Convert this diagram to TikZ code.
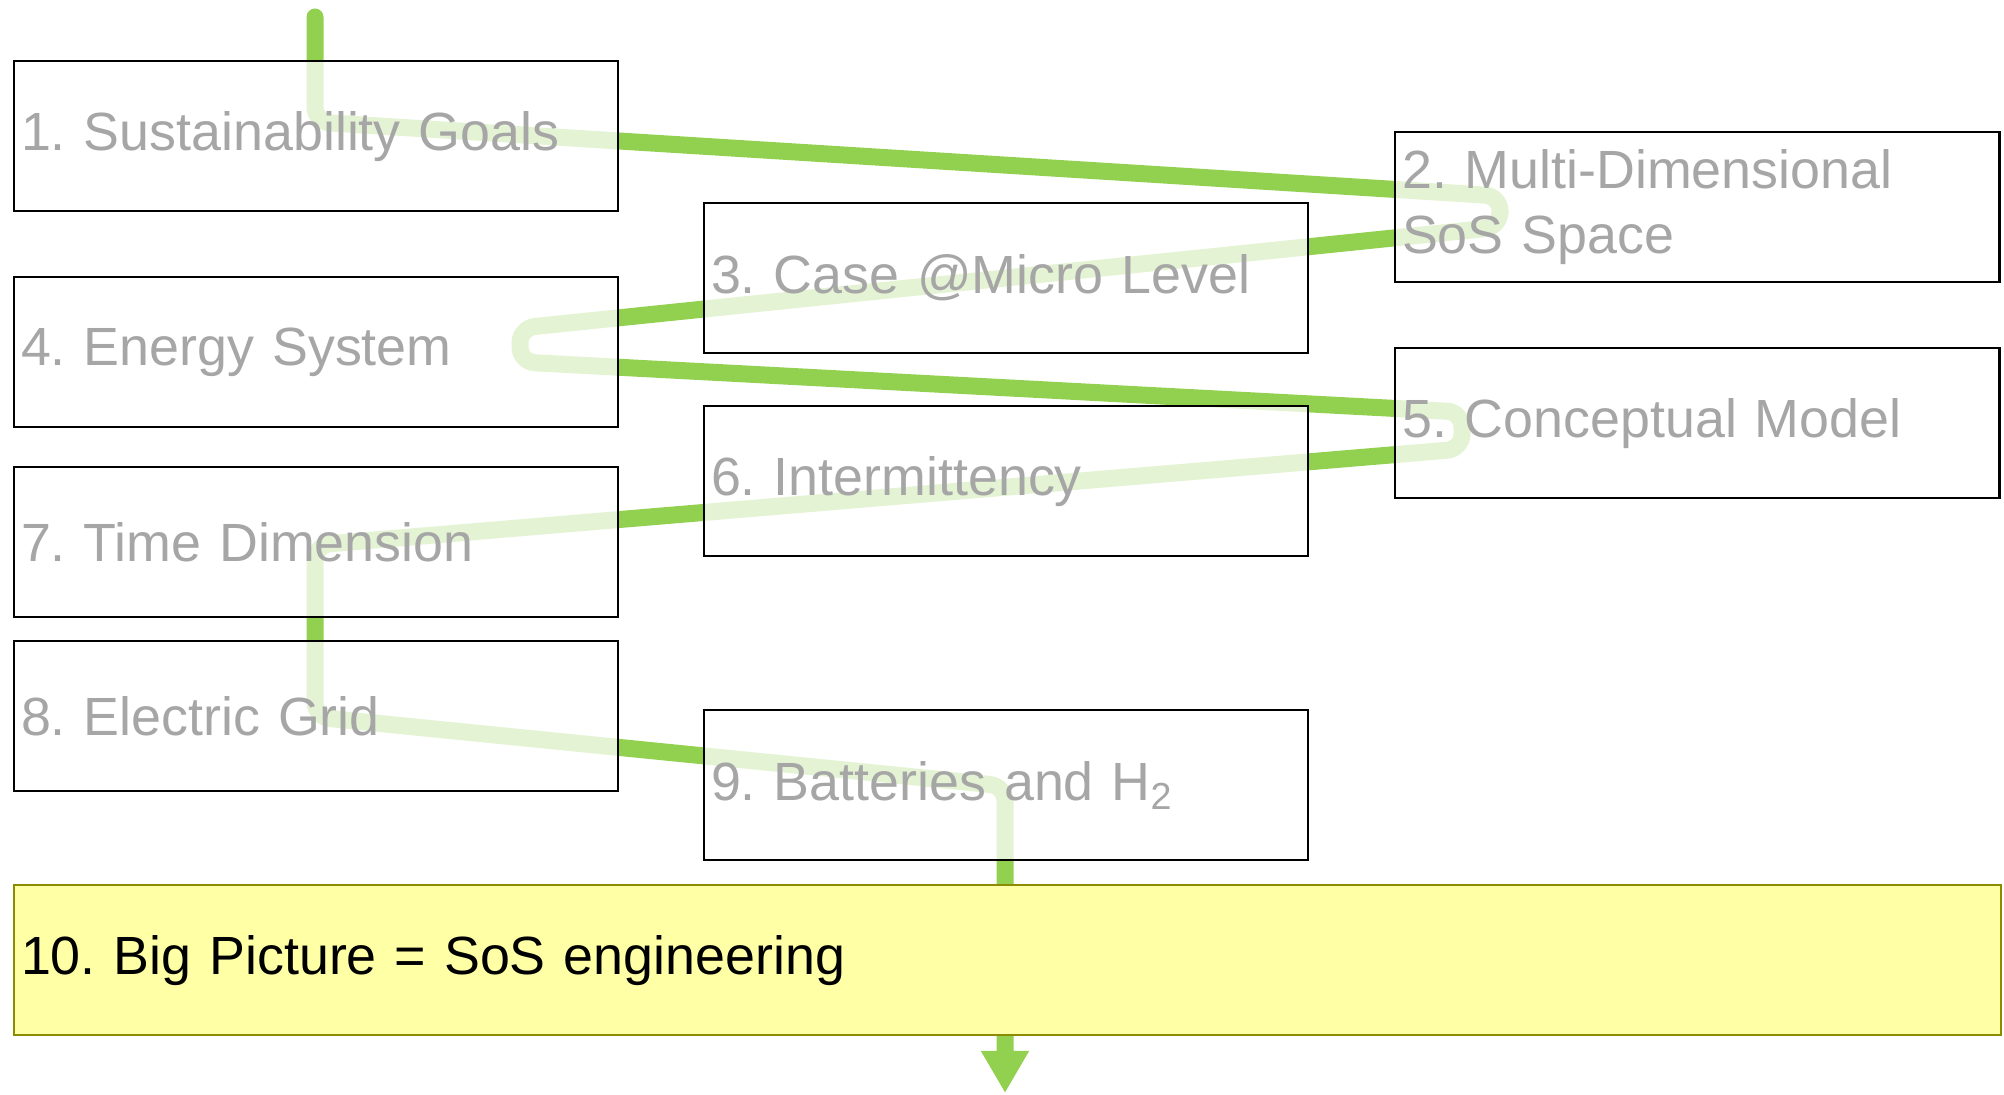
\documentclass[tikz,border=0pt]{standalone}
\usepackage{fontspec}
\setmainfont{Liberation Sans}
\usepackage{tikz}
\usetikzlibrary{
	positioning,   %定位
	arrows.meta,   %箭头
	backgrounds    %背景层
}
\frenchspacing
\definecolor{leafgreen}{RGB}{146,208,80}
\definecolor{fadegray}{RGB}{166,166,166}
\definecolor{bigyellow}{RGB}{255,255,166}
\definecolor{olivedge}{RGB}{140,140,0}
\tikzset{
	every picture/.style={
		x=0.01cm,y=-0.01cm,
		font=\fontsize{15.3}{18.5}\selectfont
}}
\tikzset{
	stage/.style={draw=black, line width=0.6pt,
		fill=white, fill opacity=0.75, text opacity=1,
		text=fadegray, anchor=north west,
		minimum width=6.04cm, minimum height=1.5cm,
		text width=5.9cm, inner xsep=0.07cm, align=left},
	final/.style={stage, draw=olivedge, fill=bigyellow, fill opacity=1,
		text=black, minimum width=19.86cm, text width=19.72cm},
	flow/.style={draw=leafgreen, line width=0.17cm,
		rounded corners=0.15cm, line cap=round}
}

\begin{document}
\begin{tikzpicture}
\useasboundingbox (0,0) rectangle (2004,1094);
%各个步骤
\node[stage] (s1) at (13,60) {1. Sustainability Goals};
\node[stage] (s2) at (1394,131) {2. Multi-Dimensional\\SoS Space};
\node[stage] (s3) at (703,202) {3. Case @Micro Level};
\node[stage] (s4) at (13,276) {4. Energy System};
\node[stage] (s5) at (1394,347) {5. Conceptual Model};
\node[stage] (s6) at (703,405) {6. Intermittency};
\node[stage] (s7) at (13,466) {7. Time Dimension};
\node[stage] (s8) at (13,640) {8. Electric Grid};
\node[stage] (s9) at (703,709) {9. Batteries and H\textsubscript{2}};
\node[final] (s10) at (13,884) {10. Big Picture = SoS engineering};
%路线的拐点
\coordinate (in) at (315,17);
\coordinate (t1) at (315,122);
\coordinate (t2) at (1500,196);
\coordinate (t3) at (1500,227);
\coordinate (t4) at (520,328);
\coordinate (t5) at (520,362);
\coordinate (t6) at (1462,412);
\coordinate (t7) at (1462,449);
\coordinate (t8) at (315,545);
\coordinate (t9) at (315,717);
\coordinate (t10) at (1005,786);
\coordinate (out) at (1005,1093);
%绿色路线画在背景层
\begin{scope}[on background layer]
\draw[flow,-{Triangle[width=0.45cm,length=0.42cm]}]
	(in) -- (t1) -- (t2) -- (t3) -- (t4) -- (t5) -- (t6)
	-- (t7) -- (t8) -- (t9) -- (t10) -- (out);
\end{scope}
\end{tikzpicture}
\end{document}
